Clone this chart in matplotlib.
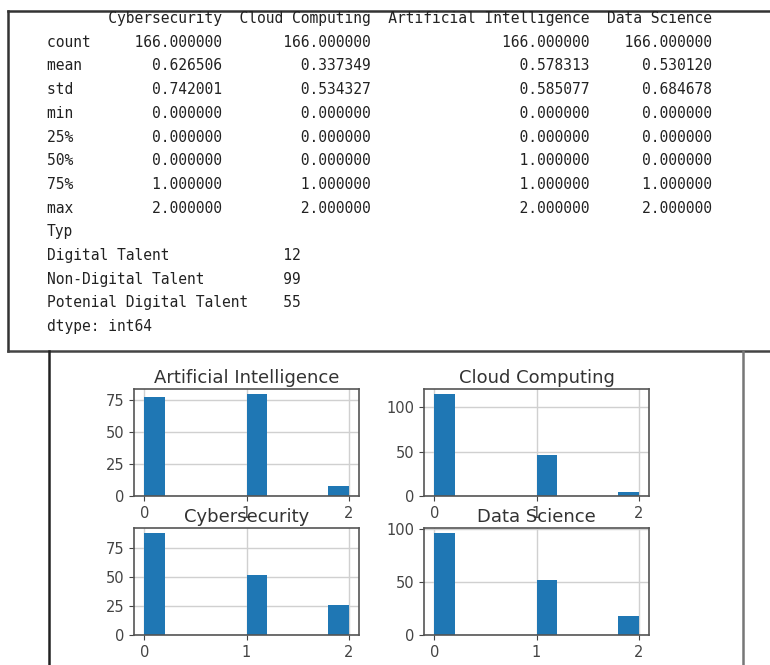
import numpy as np
import pandas as pd
from matplotlib import pyplot as plt
from matplotlib.lines import Line2D
from matplotlib.ticker import MaxNLocator

W, H = 770, 665

# answer levels and how many respondents gave each one
levels = [0, 1, 2]
columns = ["Cybersecurity", "Cloud Computing", "Artificial Intelligence", "Data Science"]
cyber_counts = [88, 52, 26]
cloud_counts = [115, 46, 5]
ai_counts = [78, 80, 8]
ds_counts = [96, 52, 18]

talent_types = ["Digital Talent", "Non-Digital Talent", "Potenial Digital Talent"]
talent_counts = [12, 99, 55]


def px(x, y):
    # pixel position -> figure fraction (origin at top left)
    return x / W, 1 - y / H


def rect(x0, y0, x1, y1):
    a, b = px(x0, y1)
    c, d = px(x1, y0)
    return [a, b, c - a, d - b]


# rebuild the survey table from the counts
df = pd.DataFrame({
    "Cybersecurity": np.repeat(levels, cyber_counts),
    "Cloud Computing": np.repeat(levels, cloud_counts),
    "Artificial Intelligence": np.repeat(levels, ai_counts),
    "Data Science": np.repeat(levels, ds_counts),
})
typ = pd.Series(talent_counts, index=pd.Index(talent_types, name="Typ"))

text_lines = df[columns].describe().to_string().split("\n") + str(typ).split("\n")

fig = plt.figure(figsize=(W / 100, H / 100), dpi=100)

# console output printed in monospace
y = 18.5
for line in text_lines:
    fig.text(*px(47, y), line, family="DejaVu Sans Mono", fontsize=10.5,
             color="#222222", va="center", ha="left")
    y += 23.7

# frame lines around the two blocks
lines = [
    ((8, 11), (770, 11), "#333333"),
    ((8, 11), (8, 351), "#333333"),
    ((8, 351), (770, 351), "#444444"),
    ((49, 351), (49, 665), "#222222"),
    ((743, 351), (743, 665), "#777777"),
]
for (xa, ya), (xb, yb), c in lines:
    p0 = px(xa, ya)
    p1 = px(xb, yb)
    fig.add_artist(Line2D([p0[0], p1[0]], [p0[1], p1[1]], color=c, lw=1.8,
                          transform=fig.transFigure))

# histogram grid
bins = np.linspace(0, 2, 11)
panels = [
    ("Artificial Intelligence", ai_counts, (134, 389, 359, 496)),
    ("Cloud Computing", cloud_counts, (424, 389, 649, 496)),
    ("Cybersecurity", cyber_counts, (134, 528, 359, 635)),
    ("Data Science", ds_counts, (424, 528, 649, 635)),
]
for name, counts, box in panels:
    ax = fig.add_axes(rect(*box))
    ax.hist(levels, bins=bins, weights=counts, color="#1f77b4", zorder=2)
    ax.grid(True, color="#d0d0d0", lw=1, zorder=0)
    ax.set_axisbelow(True)
    ax.set_xticks(levels)
    ax.yaxis.set_major_locator(MaxNLocator(4, steps=[1, 2.5, 5, 10]))
    ax.set_title(name, fontsize=13, color="#333333", pad=4.5)
    ax.tick_params(labelsize=10.5, colors="#444444", length=3.5)
    for s in ax.spines.values():
        s.set_color("#555555")
        s.set_linewidth(1.2)

fig.savefig("out.png", dpi=100)
